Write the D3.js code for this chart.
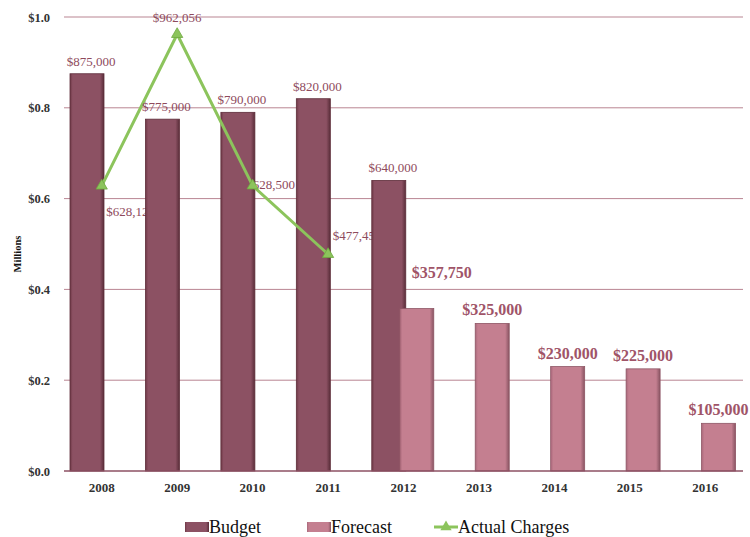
<!DOCTYPE html>
<html><head><meta charset="utf-8">
<script src="https://cdn.jsdelivr.net/npm/d3@7/dist/d3.min.js"></script>
<style>body{margin:0;background:#fff}svg{display:block}</style>
</head><body>
<svg id="c" width="750" height="537"></svg>
<script>
const years = ["2008","2009","2010","2011","2012","2013","2014","2015","2016"];
const budget = [875000, 775000, 790000, 820000, 640000, null, null, null, null];
const forecast = [null, null, null, null, 357750, 325000, 230000, 225000, 105000];
const actual = [628125, 962056, 628500, 477450, null, null, null, null, null];
const yTicks = [0, 0.2, 0.4, 0.6, 0.8, 1.0];
const yTickLabels = ["$0.0","$0.2","$0.4","$0.6","$0.8","$1.0"];
// label placement for actual charges: dx, dy relative to point
const actualLabelPos = [[29,30],[0,-12],[18,3],[29,-14]];

const svg = d3.select("#c");
const m = {l:64, r:7, t:17, b:66};
const W = 750, H = 537;
const x = d3.scaleBand().domain(years).range([m.l, W - m.r]).paddingInner(0).paddingOuter(0);
const y = d3.scaleLinear().domain([0, 1.0]).range([H - m.b, m.t]);
const bw = 34, offB = 6, offF = 34;
const fmt = v => "$" + d3.format(",")(v);
const serif = "'Liberation Serif','DejaVu Serif',serif";

const defs = svg.append("defs");
function grad(id, c1, c2){
  const g = defs.append("linearGradient").attr("id", id).attr("x1","0").attr("x2","1").attr("y1","0").attr("y2","0");
  g.append("stop").attr("offset","0").attr("stop-color", c1);
  g.append("stop").attr("offset","0.08").attr("stop-color", c2);
  g.append("stop").attr("offset","0.88").attr("stop-color", c2);
  g.append("stop").attr("offset","1").attr("stop-color", d3.color(c1).darker(0.6));
}
grad("gB", "#6e3846", "#8c5163");
grad("gF", "#a9687a", "#c47f90");

// gridlines
svg.append("g").selectAll("line").data(yTicks.filter(d=>d>0)).join("line")
  .attr("x1", m.l).attr("x2", W - m.r)
  .attr("y1", d=>y(d)).attr("y2", d=>y(d))
  .attr("stroke", "#b98592").attr("stroke-width", 1);

// y axis
const ya = svg.append("g").attr("transform", `translate(${m.l},0)`)
  .call(d3.axisLeft(y).tickValues(yTicks).tickFormat((d,i)=>yTickLabels[i]).tickSize(0).tickPadding(14));
ya.select(".domain").remove();
ya.selectAll("text").attr("font-family", serif).attr("font-size", 12.5).attr("font-weight","bold").attr("fill","#333");

svg.append("text").attr("transform", `translate(21,254) rotate(-90)`).attr("text-anchor","middle")
  .attr("font-family", serif).attr("font-size", 10.5).attr("font-weight","bold").attr("fill","#111").text("Millions");

// actual labels (behind bars)
const pts = years.map((yr,i)=>({yr, v: actual[i], i})).filter(d=>d.v!=null);
svg.append("g").selectAll("text").data(pts).join("text")
  .attr("x", d=>x(d.yr)+x.bandwidth()/2 + actualLabelPos[d.i][0])
  .attr("y", d=>y(d.v/1e6) + actualLabelPos[d.i][1])
  .attr("text-anchor","middle")
  .attr("font-family", serif).attr("font-size", 13).attr("fill","#8e4a5c")
  .text(d=>fmt(d.v));

// bars
const bB = years.map((yr,i)=>({yr,v:budget[i]})).filter(d=>d.v!=null);
const bF = years.map((yr,i)=>({yr,v:forecast[i]})).filter(d=>d.v!=null);
svg.append("g").selectAll("rect").data(bB).join("rect")
  .attr("x", d=>x(d.yr)+offB).attr("width", bw)
  .attr("y", d=>y(d.v/1e6)).attr("height", d=>y(0)-y(d.v/1e6))
  .attr("fill","url(#gB)").attr("stroke","#5e2d3a").attr("stroke-width",0.8);
svg.append("g").selectAll("rect").data(bF).join("rect")
  .attr("x", d=>x(d.yr)+offF).attr("width", bw)
  .attr("y", d=>y(d.v/1e6)).attr("height", d=>y(0)-y(d.v/1e6))
  .attr("fill","url(#gF)").attr("stroke","#8e5564").attr("stroke-width",0.8);

// x axis line
svg.append("line").attr("x1", m.l).attr("x2", W - m.r).attr("y1", y(0)).attr("y2", y(0))
  .attr("stroke","#8c5163").attr("stroke-width",1.5);
const xa = svg.append("g").attr("transform", `translate(0,${y(0)})`)
  .call(d3.axisBottom(x).tickSize(0).tickPadding(12));
xa.select(".domain").remove();
xa.selectAll("text").attr("font-family", serif).attr("font-size", 13).attr("font-weight","bold").attr("fill","#333");

// line
const line = d3.line().x(d=>x(d.yr)+x.bandwidth()/2).y(d=>y(d.v/1e6));
svg.append("path").datum(pts).attr("d", line).attr("fill","none")
  .attr("stroke","#8cc45c").attr("stroke-width",3).attr("stroke-linejoin","round");
const tri = d3.symbol().type(d3.symbolTriangle).size(55);
svg.append("g").selectAll("path").data(pts).join("path")
  .attr("d", tri).attr("transform", d=>`translate(${x(d.yr)+x.bandwidth()/2},${y(d.v/1e6)})`)
  .attr("fill","#8cc45c").attr("stroke","#6fa840").attr("stroke-width",0.8);

// budget labels
svg.append("g").selectAll("text").data(bB).join("text")
  .attr("x", d=>x(d.yr)+offB+bw/2+4).attr("y", d=>y(d.v/1e6)-8)
  .attr("text-anchor","middle")
  .attr("font-family", serif).attr("font-size", 13).attr("fill","#8e4a5c")
  .text(d=>fmt(d.v));
// forecast labels
svg.append("g").selectAll("text").data(bF).join("text")
  .attr("x", (d,i)=>x(d.yr)+offF+bw/2 + (i===0?25:0)).attr("y", (d,i)=> i===0 ? y(d.v/1e6)-31 : y(d.v/1e6)-8)
  .attr("text-anchor","middle")
  .attr("font-family", serif).attr("font-size", 16).attr("font-weight","bold").attr("fill","#a05468")
  .text(d=>fmt(d.v));

// legend
const lg = svg.append("g").attr("font-family", serif).attr("font-size", 18).attr("fill","#111");
lg.append("rect").attr("x",185).attr("y",522).attr("width",24).attr("height",10).attr("fill","url(#gB)");
lg.append("text").attr("x",209).attr("y",533).text("Budget");
lg.append("rect").attr("x",307).attr("y",522).attr("width",24).attr("height",10).attr("fill","url(#gF)");
lg.append("text").attr("x",331).attr("y",533).text("Forecast");
lg.append("line").attr("x1",434).attr("x2",458).attr("y1",527).attr("y2",527).attr("stroke","#8cc45c").attr("stroke-width",3);
lg.append("path").attr("d", tri).attr("transform","translate(446,527)").attr("fill","#8cc45c");
lg.append("text").attr("x",458).attr("y",533).text("Actual Charges");
</script>
</body></html>
